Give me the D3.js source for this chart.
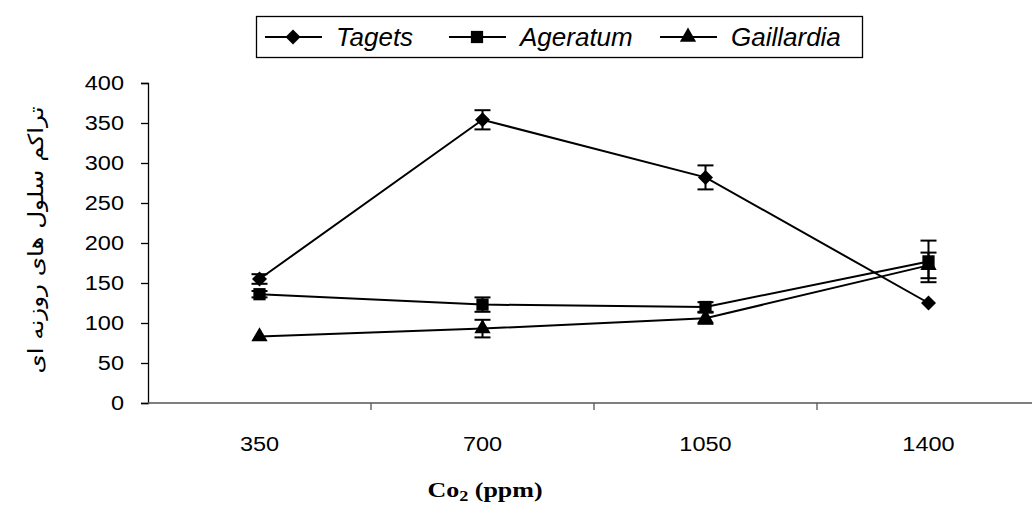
<!DOCTYPE html>
<html>
<head>
<meta charset="utf-8">
<script src="https://d3js.org/d3.v7.min.js"></script>
<style>
body { margin: 0; background: #fff; }
.line { fill: none; stroke: #000; stroke-width: 2px; }
</style>
</head>
<body>
<div id="chart"></div>
<script>
// data
var categories = ["350", "700", "1050", "1400"];
var seriesNames = ["Tagets", "Ageratum", "Gaillardia"];
var tagets = [155, 354, 282, 125];
var tagetsErr = [6, 12, 15, 2];
var ageratum = [136, 123, 120, 177];
var ageratumErr = [4, 9, 6, 26];
var gaillardia = [83, 93, 106, 172];
var gaillardiaErr = [2, 11, 7, 16];
var yTicks = [0, 50, 100, 150, 200, 250, 300, 350, 400];

var W = 1032, H = 506;
var margin = {top: 83, right: -8, bottom: 103, left: 148},
    width = W - margin.left - margin.right,
    height = H - margin.top - margin.bottom;
var SX = 1.12; // tick text in the picture is a bit stretched sideways
var sans = "Arial, 'Liberation Sans', sans-serif";

var svg = d3.select("#chart").append("svg")
    .attr("width", W).attr("height", H);
var g = svg.append("g")
    .attr("transform", "translate(" + margin.left + "," + margin.top + ")");

var x = d3.scaleBand().domain(categories).range([0, width]);
var y = d3.scaleLinear().domain([0, 400]).range([height, 0]);

// y axis
var ya = g.append("g").call(d3.axisLeft(y).tickValues(yTicks).tickSize(7));
ya.select(".domain").attr("stroke", "#000").attr("stroke-width", 1.3);
ya.selectAll(".tick line").attr("stroke", "#000").attr("stroke-width", 1.3);
ya.selectAll(".tick text")
    .attr("x", -24 / SX)
    .attr("transform", "scale(" + SX + ",1)")
    .attr("fill", "#000")
    .style("font-family", sans).style("font-size", "21px");

// x axis: ticks between categories
var xa = g.append("g").attr("transform", "translate(0," + height + ")");
xa.append("line").attr("x1", 0).attr("x2", width).attr("stroke", "#555").attr("stroke-width", 1.5);
xa.selectAll(".bt").data(categories.slice(1)).enter().append("line")
    .attr("x1", function(d) { return x(d); }).attr("x2", function(d) { return x(d); })
    .attr("y1", 0).attr("y2", 7).attr("stroke", "#555").attr("stroke-width", 1.3);
xa.selectAll(".lbl").data(categories).enter().append("text")
    .attr("transform", function(d) {
      return "translate(" + (x(d) + x.bandwidth() / 2) + ",48) scale(" + SX + ",1)";
    })
    .attr("text-anchor", "middle")
    .style("font-family", sans)
    .style("font-size", "21px")
    .text(function(d) { return d; });

var diamond = {draw: function(ctx, size) {
  var r = Math.sqrt(size) * 0.75;
  ctx.moveTo(0, -r); ctx.lineTo(r, 0); ctx.lineTo(0, r); ctx.lineTo(-r, 0); ctx.closePath();
}};

var series = [
  {name: seriesNames[0], vals: tagets, err: tagetsErr, sym: diamond, size: 100},
  {name: seriesNames[1], vals: ageratum, err: ageratumErr, sym: d3.symbolSquare, size: 150},
  {name: seriesNames[2], vals: gaillardia, err: gaillardiaErr, sym: d3.symbolTriangle, size: 115}
];

var line = d3.line()
    .x(function(d, i) { return x(categories[i]) + x.bandwidth() / 2; })
    .y(function(d) { return y(d); });

series.forEach(function(s) {
  g.append("path").datum(s.vals).attr("class", "line").attr("d", line);
});

// error bars
series.forEach(function(s) {
  s.vals.forEach(function(v, i) {
    var cx = x(categories[i]) + x.bandwidth() / 2;
    var e = s.err[i];
    if (e < 3) return;
    var eb = g.append("g").attr("stroke", "#000").attr("stroke-width", 2);
    eb.append("line").attr("x1", cx).attr("x2", cx).attr("y1", y(v + e)).attr("y2", y(v - e));
    eb.append("line").attr("x1", cx - 8).attr("x2", cx + 8).attr("y1", y(v + e)).attr("y2", y(v + e));
    eb.append("line").attr("x1", cx - 8).attr("x2", cx + 8).attr("y1", y(v - e)).attr("y2", y(v - e));
  });
});

// markers
series.forEach(function(s) {
  g.selectAll(null).data(s.vals).enter().append("path")
    .attr("d", d3.symbol().type(s.sym).size(s.size))
    .attr("transform", function(d, i) {
      return "translate(" + (x(categories[i]) + x.bandwidth() / 2) + "," + y(d) + ")";
    })
    .attr("fill", "#000");
});

// y label (Persian)
svg.append("text")
    .attr("transform", "translate(43,240) rotate(-90) scale(1.17,1)")
    .attr("text-anchor", "middle")
    .style("font-family", "'DejaVu Sans', 'Noto Sans', sans-serif")
    .style("font-size", "21px")
    .text("تراکم سلول های روزنه ای");

// x label
var xl = svg.append("text")
    .attr("transform", "translate(485,497) scale(1.3,1)")
    .attr("text-anchor", "middle")
    .style("font-family", "'Liberation Serif', 'Times New Roman', serif")
    .style("font-size", "20px")
    .style("font-weight", "bold");
xl.append("tspan").text("Co");
xl.append("tspan").attr("dy", 4).style("font-size", "14px").text("2");
xl.append("tspan").attr("dy", -4).text(" (ppm)");

// legend
var lg = svg.append("g");
lg.append("rect").attr("x", 256.5).attr("y", 16.5).attr("width", 606).attr("height", 41)
    .attr("fill", "#fff").attr("stroke", "#000").attr("stroke-width", 1.3);
var legX = [265, 449, 660];
series.forEach(function(s, i) {
  var lx = legX[i];
  lg.append("line").attr("x1", lx).attr("x2", lx + 57).attr("y1", 37).attr("y2", 37)
    .attr("stroke", "#000").attr("stroke-width", 2);
  lg.append("path").attr("d", d3.symbol().type(s.sym).size(s.size))
    .attr("transform", "translate(" + (lx + 28) + ",37)").attr("fill", "#000");
  lg.append("text").attr("x", lx + 71).attr("y", 46)
    .style("font-family", sans)
    .style("font-size", "26px").style("font-style", "italic")
    .text(s.name);
});
</script>
</body>
</html>
